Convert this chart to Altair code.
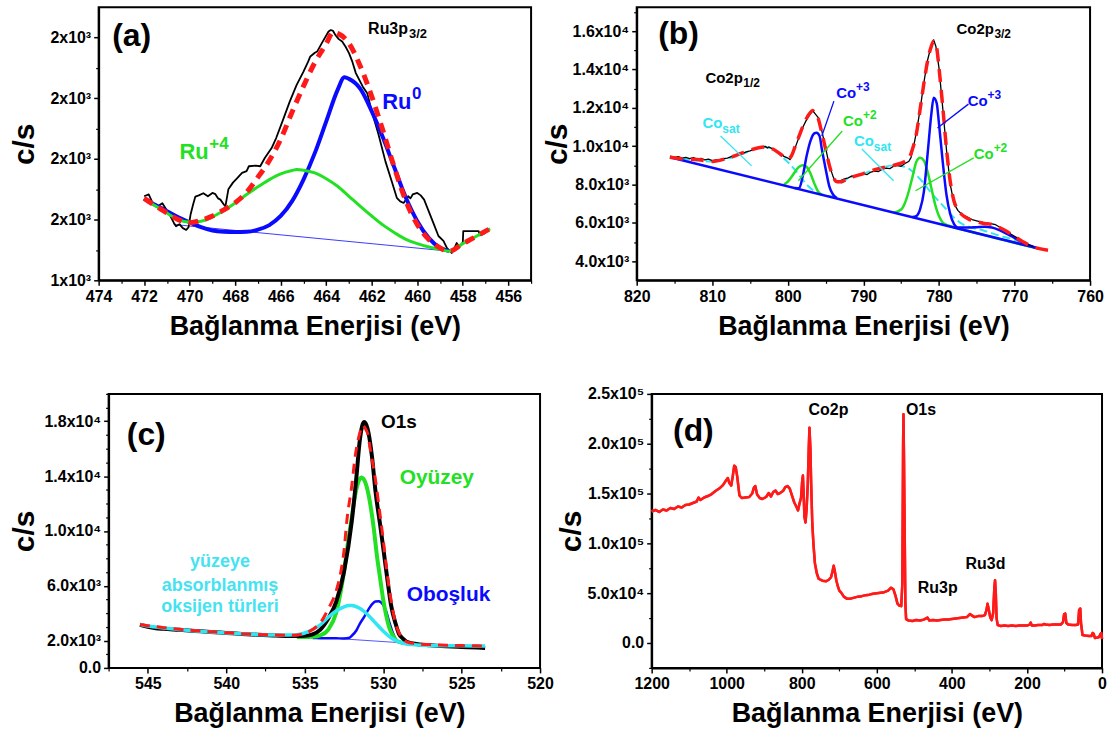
import altair as alt
import pandas as pd

FONT = "Liberation Sans"
BLACK = "#000000"
RED = "#ff1a1a"
BLUE = "#0a0aff"
GREEN = "#22e022"
CYAN = "#2fe6f2"
TXTCYAN = "#45e3f2"

# ---------------- (a) Ru3p ----------------
a_base_E = [470.7, 458.6]
a_base_V = [1584, 1496]
a_blue_E = [472, 471.5, 471, 470.5, 470, 469.5, 469, 468.5, 468, 467.5, 467, 466.5, 466, 465.5, 465,
            464.5, 464, 463.5, 463.2, 463, 462.5, 462, 461.5, 461, 460.5, 460, 459.5, 459, 458.6]
a_blue_V = [1670, 1648, 1628, 1608, 1591, 1575, 1564, 1560, 1559, 1560, 1567, 1582, 1612, 1661, 1732,
            1820, 1924, 2028, 2069, 2064, 2031, 1957, 1869, 1770, 1672, 1595, 1540, 1507, 1496]
a_green_E = [472, 471.5, 471, 470.5, 470, 469.5, 469, 468.5, 468, 467.5, 467, 466.5, 466, 465.5, 465.3,
             465, 464.5, 464, 463.5, 463, 462.5, 462, 461.5, 461, 460.5, 460, 459.5, 459, 458.6, 458,
             457.5, 457, 456.8]
a_green_V = [1670, 1645, 1622, 1600, 1592, 1595, 1609, 1630, 1655, 1683, 1708, 1732, 1751, 1762, 1765,
             1763, 1754, 1735, 1710, 1677, 1644, 1612, 1582, 1557, 1535, 1521, 1510, 1502, 1496, 1521,
             1541, 1562, 1570]
a_red_E = [472, 471.5, 471, 470.5, 470, 469.5, 469, 468.5, 468, 467.5, 467, 466.5, 466, 465.5, 465,
           464.5, 464, 463.7, 463.5, 463, 462.5, 462, 461.5, 461, 460.5, 460, 459.5, 459, 458.6, 458,
           457.5, 457, 456.8]
a_red_V = [1670, 1645, 1622, 1600, 1590, 1598, 1612, 1632, 1656, 1690, 1740, 1795, 1865, 1955, 2040,
           2118, 2180, 2218, 2214, 2181, 2105, 2006, 1891, 1770, 1661, 1584, 1535, 1507, 1496, 1521,
           1541, 1562, 1570]
a_black_E = [472.0, 471.8, 471.6, 471.4, 471.2, 471.0, 470.84, 470.7, 470.6, 470.45, 470.3, 470.15,
             470.05, 469.96, 469.85, 469.75, 469.6, 469.4, 469.2, 469.0, 468.87, 468.75, 468.65, 468.5,
             468.43, 468.3, 468.1, 467.9, 467.7, 467.5, 467.4, 467.1, 466.9, 466.7, 466.4, 466.2,
             465.9, 465.6, 465.3, 465.0, 464.8, 464.7, 464.5, 464.4, 464.2, 463.9, 463.8, 463.7,
             463.6, 463.45, 463.3, 463.15, 463.0, 462.85, 462.7, 462.4, 462.2, 462.0, 461.7, 461.4,
             461.1, 460.9, 460.75, 460.6, 460.4, 460.3, 460.2, 460.0, 459.85, 459.7, 459.5, 459.3,
             459.07, 458.85, 458.7, 458.49, 458.4, 458.27, 458.15, 458.0, 457.98, 457.3, 457.25, 457.0]
a_black_V = [1677, 1683, 1650, 1644, 1654, 1630, 1611, 1590, 1578, 1585, 1572, 1566,
             1575, 1617, 1650, 1676, 1680, 1687, 1677, 1688, 1684, 1670, 1666, 1650,
             1644, 1700, 1722, 1738, 1754, 1760, 1776, 1778, 1776, 1803, 1836, 1869,
             1929, 1990, 2044, 2088, 2120, 2138, 2150, 2154, 2181, 2220, 2225, 2222,
             2209, 2195, 2187, 2170, 2149, 2120, 2083, 2039, 2017, 1957, 1880, 1792,
             1721, 1672, 1660, 1655, 1677, 1670, 1683, 1688, 1680, 1666, 1628, 1590,
             1546, 1530, 1507, 1490, 1500, 1523, 1510, 1525, 1562, 1562, 1548, 1556]

# ---------------- (b) Co2p ----------------
b_base_E = [815.6, 767.2]
b_base_V = [9425, 4700]
b_blue1_E = [799.1, 798.5, 798, 797.5, 797, 796.5, 796.2, 795.8, 795.5, 795, 794.5, 794, 793.5]
b_blue1_V = [7815, 7800, 8487, 9510, 10278, 10670, 10705, 10534, 9852, 8828, 7890, 7463, 7293]
b_blue2_E = [783.5, 783, 782.5, 782, 781.5, 781, 780.7, 780.3, 780, 779.5, 779, 778.5, 778, 777.5,
             777, 776, 775, 774, 773, 772, 771, 770, 769, 768, 767.2]
b_blue2_V = [6300, 6350, 6700, 7600, 9600, 11700, 12530, 12250, 11200, 9200, 7450, 6450, 5930, 5760,
             5757, 5757, 5774, 5791, 5757, 5620, 5416, 5211, 4990, 4819, 4700]
b_green1_E = [800.5, 800, 799.5, 799, 798.5, 798, 797.5, 797, 796.5, 796, 795.5]
b_green1_V = [8009, 8146, 8401, 8692, 8930, 8999, 8913, 8572, 8060, 7634, 7463]
b_green2_E = [786, 785, 784.5, 784, 783.5, 783, 782.5, 782, 781.5, 781, 780.5, 780, 779.5, 779,
              778.5, 778, 776, 774, 772, 770, 767.2]
b_green2_V = [6525, 6696, 7037, 7634, 8401, 9169, 9391, 9254, 8657, 7804, 6951, 6354, 6013, 5894,
              5825, 5760, 5560, 5360, 5160, 4960, 4700]
b_cyan1_E = [815.6, 812, 810, 808, 806, 804, 803, 802, 801, 800, 799, 798, 797, 796, 795, 794]
b_cyan1_V = [9425, 9254, 9203, 9340, 9596, 9886, 9954, 9852, 9544, 9169, 8743, 8231, 7804, 7548,
             7429, 7361]
b_cyan2_E = [793, 792, 790, 788, 786, 785, 784, 783, 782, 781, 780, 779, 778, 777, 776, 774, 772,
             770, 767.2]
b_cyan2_V = [8060, 8316, 8572, 8828, 8999, 8965, 8828, 8487, 8060, 7548, 7122, 6696, 6269, 5962,
             5791, 5587, 5331, 5109, 4700]
b_red_E = [815.6, 814, 812, 810, 808, 806, 804, 803, 802, 801, 800, 799.5, 799, 798.5, 798, 797.5,
           797, 796.7, 796.5, 796, 795.5, 795, 794.5, 794, 793.5, 793, 792, 790, 788, 786, 785,
           784.5, 784, 783.5, 783, 782.5, 782, 781.5, 781, 780.7, 780.3, 780, 779.5, 779, 778.5,
           778, 777.5, 777, 776, 775, 774, 773, 772, 771, 770, 769, 768, 767, 765.5]
b_red_V = [9425, 9340, 9306, 9203, 9374, 9647, 9903, 9954, 9852, 9596, 9340, 9510, 10022, 10534,
           11046, 11472, 11762, 11865, 11762, 11472, 10705, 9852, 8999, 8401, 8146, 8146, 8316,
           8572, 8828, 8999, 9118, 9203, 9340, 9852, 10619, 11899, 13264, 14458, 15226, 15482,
           15140, 14117, 12069, 9852, 8146, 7122, 6696, 6440, 6184, 6064, 5962, 5928, 5757, 5552,
           5280, 5041, 4819, 4682, 4563]
b_black_E = [815.6, 815, 814.5, 814, 813.5, 813, 812.5, 812, 811.5, 811, 810.5, 810, 809.5, 809,
             808.5, 808, 807.5, 807, 806.5, 806, 805.5, 805, 804.5, 804, 803.5, 803, 802.7, 802.5,
             802, 801.5, 801, 800.5, 800, 799.7, 799.5, 799, 798.5, 798, 797.5, 797, 796.7, 796.4,
             796, 795.5, 795, 794.5, 794, 793.7, 793.3, 793, 792.5, 792, 791.5, 791, 790.5, 790,
             789.5, 789, 788.5, 788, 787.5, 787, 786.5, 786, 785.5, 785, 784.5, 784, 783.7, 783.4,
             783, 782.5, 782, 781.5, 781, 780.7, 780.4, 780, 779.5, 779, 778.5, 778, 777.5, 777,
             776.5, 776, 775.5, 775, 774.5, 774, 773.5, 773, 772.5, 772, 771.5, 771, 770.5, 770,
             769.5, 769, 768.5, 768, 767.5]
b_black_V = [9480, 9420, 9460, 9380, 9420, 9350, 9400, 9330, 9360, 9290, 9320, 9250, 9290, 9300,
             9350, 9380, 9450, 9480, 9560, 9620, 9700, 9760, 9830, 9880, 9940, 9990, 9900, 9960,
             9860, 9760, 9600, 9470, 9380, 9300, 9480, 9950, 10500, 11000, 11400, 11700, 11850,
             11700, 11500, 10800, 9900, 9000, 8400, 8150, 8100, 8200, 8300, 8350, 8450, 8420, 8500,
             8550, 8520, 8650, 8700, 8680, 8800, 8850, 8830, 8950, 9000, 8950, 9100, 9200, 9400,
             9900, 10700, 11900, 13300, 14500, 15300, 15550, 15200, 14100, 12000, 9800, 8000, 7000,
             6650, 6450, 6350, 6250, 6150, 6100, 6050, 6000, 5980, 5950, 5900, 5780, 5680, 5560,
             5420, 5300, 5180, 5050, 4920, 4830, 4760]

# ---------------- (c) O1s ----------------
c_frame_E = [547.5, 520]
c_frame_V = [0, 20000]
c_base_E = [533, 528]
c_base_V = [2150, 1770]
c_black_E = [545.5, 545, 544.5, 544, 543, 542, 541, 540, 539, 538, 537, 536, 535.5, 535, 534.5, 534,
             533.5, 533, 532.5, 532, 531.7, 531.5, 531.3, 531.2, 531, 530.7, 530.5, 530.2, 530,
             529.7, 529.5, 529.2, 529, 528.7, 528.5, 528, 527, 526, 525, 524, 523.5]
c_black_V = [3150, 3000, 2900, 2850, 2780, 2700, 2620, 2550, 2480, 2420, 2370, 2330, 2320, 2340, 2450,
             2800, 3600, 4800, 7000, 10700, 14000, 16500, 17800, 17950, 17500, 15300, 13000, 10500,
             8800, 6200, 4600, 3200, 2500, 2100, 1900, 1760, 1650, 1580, 1530, 1480, 1450]
c_red_E = [545.5, 545, 544, 543, 542, 541, 540, 539, 538, 537, 536, 535.5, 535, 534.5, 534, 533.5,
           533, 532.7, 532.5, 532.3, 532, 531.8, 531.5, 531.3, 531.1, 531, 530.8, 530.5, 530.2, 530,
           529.7, 529.4, 529.2, 529, 528.7, 528.5, 528, 527, 526, 525, 524, 523.5]
c_red_V = [3170, 3080, 2940, 2820, 2720, 2640, 2560, 2500, 2440, 2400, 2380, 2400, 2520, 2800, 3300,
           4300, 5600, 7000, 8500, 10900, 13300, 15300, 17100, 17700, 17400, 17150, 15800, 13800,
           11200, 9400, 6500, 4300, 3200, 2600, 2050, 1900, 1780, 1700, 1660, 1630, 1610, 1600]
c_green_E = [535.5, 535, 534.5, 534, 533.5, 533, 532.7, 532.5, 532.2, 532, 531.8, 531.6, 531.4, 531.2,
             531, 530.8, 530.6, 530.4, 530.2, 530, 529.8, 529.6, 529.4, 529.2, 529, 528.5, 528]
c_green_V = [2260, 2260, 2280, 2380, 2800, 4000, 5600, 7000, 9500, 11000, 12500, 13500, 13900, 13700,
             13000, 11800, 10200, 8200, 6600, 5000, 3800, 2900, 2400, 2050, 1900, 1800, 1770]
c_cyan_E = [545.5, 545, 544, 543, 542, 541, 540, 539, 538, 537, 536, 535.5, 535, 534.5, 534, 533.5,
            533, 532.5, 532.2, 532, 531.5, 531, 530.5, 530, 529.5, 529, 528.5, 528, 527, 526, 525,
            524, 523.5]
c_cyan_V = [3170, 3060, 2920, 2800, 2700, 2620, 2550, 2490, 2430, 2400, 2400, 2430, 2550, 2800, 3150,
            3700, 4150, 4450, 4550, 4550, 4350, 3900, 3300, 2700, 2200, 1900, 1750, 1690, 1640, 1620,
            1610, 1600, 1600]
c_blue_E = [534.5, 534, 533, 532.5, 532.2, 532, 531.7, 531.5, 531.2, 531, 530.7, 530.5, 530.3, 530,
            529.8, 529.6, 529.4, 529.2, 529, 528.7]
c_blue_V = [2180, 2170, 2160, 2150, 2180, 2350, 2750, 3200, 3750, 4150, 4650, 4850, 4870, 4600, 4100,
            3300, 2600, 2100, 1880, 1800]

# ---------------- (d) survey ----------------
d_E = [1200, 1190, 1180, 1170, 1160, 1150, 1140, 1130, 1120, 1110, 1100, 1090, 1080, 1075, 1070,
       1060, 1050, 1040, 1030, 1020, 1010, 1003, 997, 993, 988, 984, 980, 976, 972, 966, 960, 950,
       940, 932, 928, 924, 919, 912, 905, 895, 888, 882, 876, 870, 864, 858, 850, 844, 838, 832,
       826, 820, 814, 810, 806, 802, 799, 797, 795, 793, 790, 787, 784, 781, 779.5, 777, 775, 772,
       769, 765, 760, 755, 745, 735, 728, 722, 718, 715, 712, 708, 704, 700, 695, 688, 680, 670,
       660, 650, 640, 630, 620, 610, 600, 590, 580, 570, 562, 556, 550, 545, 540, 535, 532, 530,
       529, 527.5, 526, 524, 522, 515, 505, 495, 485, 475, 465, 460, 450, 440, 430, 420, 410, 400,
       390, 380, 370, 360, 352, 346, 340, 330, 320, 312, 308, 305, 302, 298, 294, 290, 287, 285,
       283, 281, 278, 270, 260, 250, 240, 230, 220, 210, 200, 193, 190, 187, 180, 170, 160, 155,
       150, 140, 130, 120, 110, 104, 101, 98, 95, 90, 80, 70, 64, 61, 58, 56, 52, 45, 35, 28, 25,
       22, 19, 12, 8, 4, 2, 0]
d_V = [132000, 133500, 131500, 134000, 133000, 135500, 134500, 137000, 136000, 138500, 139000,
       140500, 142000, 146000, 143500, 146000, 147500, 149500, 152500, 155000, 158500, 162500,
       165500, 160500, 158000, 167000, 178000, 176500, 167000, 148000, 145500, 146000, 146500,
       150000, 155500, 157500, 149000, 145500, 144500, 146500, 150500, 147000, 151500, 153000,
       149500, 150500, 152500, 156500, 157500, 155000, 148000, 141000, 136500, 133000, 140000,
       145500, 162000, 168000, 150000, 127000, 121000, 135000, 160000, 200000, 216000, 195000,
       160000, 120000, 100000, 80000, 70000, 64500, 62500, 62000, 63500, 66000, 72000, 77500,
       72000, 63000, 57000, 52500, 50500, 46500, 44500, 44500, 45500, 46500, 47000, 48000, 48500,
       49500, 50000, 50500, 51000, 52500, 55500, 54000, 47000, 39500, 37500, 37000, 60000, 200000,
       229500, 180000, 120000, 40000, 24000, 22500, 22000, 23000, 22500, 23500, 25500, 22500,
       23000, 22500, 23000, 23500, 23500, 24000, 24500, 25000, 25500, 26000, 29000, 27500, 26000,
       27000, 27000, 28000, 33000, 39500, 34000, 26000, 23000, 30000, 55000, 63000, 50000, 25000,
       18000, 17000, 17500, 17000, 17500, 17000, 17500, 17500, 17500, 18500, 20500, 17500, 17500,
       18000, 18000, 19000, 18500, 18000, 18500, 18500, 18500, 21000, 29000, 29500, 20000, 18500,
       18000, 18000, 18500, 33000, 34500, 20000, 8000, 7500, 7000, 7000, 10000, 9000, 5000, 5500,
       6000, 9000, 10000, 4000]

# ---------------- axes ----------------
a_xticks = [474, 472, 470, 468, 466, 464, 462, 460, 458, 456]
a_xminor = [473, 471, 469, 467, 465, 463, 461, 459, 457, 455]
a_yticks = [1400, 1600, 1800, 2000, 2200]
a_yminor = [1500, 1700, 1900, 2100]
b_xticks = [820, 810, 800, 790, 780, 770, 760]
b_xminor = [815, 805, 795, 785, 775, 765]
b_yticks = [4000, 6000, 8000, 10000, 12000, 14000, 16000]
b_yminor = [5000, 7000, 9000, 11000, 13000, 15000, 17000]
c_xticks = [545, 540, 535, 530, 525, 520]
c_xminor = [547.5, 542.5, 537.5, 532.5, 527.5, 522.5]
c_yticks = [0, 2000, 6000, 10000, 14000, 18000]
c_yminor = [1000, 3000, 4000, 5000, 7000, 8000, 9000, 11000, 12000, 13000, 15000, 16000, 17000,
            19000, 20000]
d_xticks = [1200, 1000, 800, 600, 400, 200, 0]
d_xminor = [1100, 900, 700, 500, 300, 100]
d_yticks = [0, 50000, 100000, 150000, 200000, 250000]
d_yminor = [-25000, 25000, 75000, 125000, 175000, 225000]

XTITLE = "Bağlanma Enerjisi (eV)"
YTITLE = "c/s"

EXP_B = ("datum.value < 10000 ? format(datum.value/1000, '.1f') + 'x10³' : "
         "format(datum.value/10000, '.1f') + 'x10⁴'")
a_lab = "round(datum.value/1000) + 'x10³'"
b_lab = EXP_B
c_lab = "datum.value == 0 ? '0.0' : (" + EXP_B + ")"
d_lab = ("datum.value == 0 ? '0.0' : (datum.value < 100000 ? format(datum.value/10000, '.1f') + 'x10⁴' : "
         "format(datum.value/100000, '.1f') + 'x10⁵')")


def major_x(values, domain=True):
    return alt.Axis(values=values, title=XTITLE, orient="bottom", format="d", grid=False,
                    domain=domain, domainColor=BLACK, domainWidth=2, tickColor=BLACK, tickWidth=1.5,
                    tickSize=5, labelFont=FONT, labelFontSize=16, labelFontWeight="bold",
                    labelColor=BLACK, labelPadding=3, labelFlush=False, labelOverlap=False,
                    titleFont=FONT, titleFontSize=27, titleFontWeight="bold", titleColor=BLACK,
                    titlePadding=9)


def major_y(values, expr, tx, off=0):
    return alt.Axis(values=values, title=YTITLE, orient="left", labelExpr=expr, grid=False,
                    offset=off, domainColor=BLACK, domainWidth=2, tickColor=BLACK, tickWidth=1.5,
                    tickSize=5, labelFont=FONT, labelFontSize=16, labelFontWeight="bold",
                    labelColor=BLACK, labelPadding=3, labelFlush=False, labelOverlap=False,
                    titleFont=FONT, titleFontSize=30, titleFontWeight="bold", titleColor=BLACK,
                    titleX=tx, titleBaseline="alphabetic")


def minor(values, orient, off=0):
    return alt.Axis(values=values, orient=orient, labels=False, domain=False, grid=False,
                    offset=off, tickColor=BLACK, tickWidth=1.2, tickSize=3, title=None)


def series(E, V, color, width, xs, ys, dash=None, interp="linear", xaxis=None, yaxis=None):
    df = pd.DataFrame({"E": E, "V": V, "i": list(range(len(E)))})
    mk = dict(color=color, strokeWidth=width, interpolate=interp, strokeJoin="round")
    if dash is not None:
        mk["strokeDash"] = dash
    return alt.Chart(df).mark_line(**mk).encode(
        x=alt.X("E:Q", scale=xs, axis=xaxis),
        y=alt.Y("V:Q", scale=ys, axis=yaxis),
        order=alt.Order("i:Q"),
    )


def label(E, V, s, color, size, xs, ys, align="left", dx=0, dy=0):
    df = pd.DataFrame({"E": [E], "V": [V], "t": [s]})
    return alt.Chart(df).mark_text(color=color, fontSize=size, font=FONT, fontWeight="bold",
                                   align=align, baseline="middle", dx=dx, dy=dy).encode(
        x=alt.X("E:Q", scale=xs, axis=None),
        y=alt.Y("V:Q", scale=ys, axis=None),
        text="t:N",
    )


def leader(E1, V1, E2, V2, color, xs, ys):
    df = pd.DataFrame({"E": [E1], "V": [V1], "E2": [E2], "V2": [V2]})
    return alt.Chart(df).mark_rule(color=color, strokeWidth=1.3).encode(
        x=alt.X("E:Q", scale=xs, axis=None),
        y=alt.Y("V:Q", scale=ys, axis=None),
        x2="E2:Q", y2="V2:Q",
    )


# ---------------- panel (a) ----------------
xa = alt.Scale(domain=[474, 455], nice=False, zero=False)
ya = alt.Scale(domain=[1400, 2300], nice=False, zero=False)
pa = alt.layer(
    series(a_base_E, a_base_V, BLUE, 0.8, xa, ya, xaxis=major_x(a_xticks), yaxis=major_y(a_yticks, a_lab, -65)),
    series(a_black_E, a_black_V, BLACK, 1.8, xa, ya, xaxis=minor(a_xminor, "bottom"), yaxis=minor(a_yminor, "left")),
    series(a_blue_E, a_blue_V, BLUE, 4, xa, ya, interp="monotone"),
    series(a_green_E, a_green_V, GREEN, 3, xa, ya, interp="monotone"),
    series(a_red_E, a_red_V, RED, 5, xa, ya, dash=[10, 7], interp="monotone"),
    label(472.55, 2204, "(a)", BLACK, 32, xa, ya, align="center"),
    label(462.16, 2227, "Ru3p", BLACK, 16, xa, ya),
    label(462.16, 2227, "3/2", BLACK, 13, xa, ya, dx=41, dy=5),
    label(461.54, 1988, "Ru", BLUE, 22, xa, ya),
    label(461.54, 1988, "0", BLUE, 17, xa, ya, dx=30, dy=-8),
    label(470.45, 1824, "Ru", GREEN, 22, xa, ya),
    label(470.45, 1824, "+4", GREEN, 17, xa, ya, dx=30, dy=-8),
).resolve_axis(x="independent", y="independent").properties(width=434, height=274)

# ---------------- panel (b) ----------------
xb = alt.Scale(domain=[820, 760], nice=False, zero=False)
yb = alt.Scale(domain=[3000, 17250], nice=False, zero=False)
pb = alt.layer(
    series(b_cyan1_E, b_cyan1_V, CYAN, 2, xb, yb, dash=[8, 4], interp="monotone",
           xaxis=major_x(b_xticks), yaxis=major_y(b_yticks, b_lab, -70)),
    series(b_cyan2_E, b_cyan2_V, CYAN, 2, xb, yb, dash=[8, 4], interp="monotone",
           xaxis=minor(b_xminor, "bottom"), yaxis=minor(b_yminor, "left")),
    series(b_green1_E, b_green1_V, GREEN, 2.5, xb, yb, interp="monotone"),
    series(b_green2_E, b_green2_V, GREEN, 2.5, xb, yb, interp="monotone"),
    series(b_base_E, b_base_V, BLUE, 2.5, xb, yb),
    series(b_blue1_E, b_blue1_V, BLUE, 2.5, xb, yb, interp="monotone"),
    series(b_blue2_E, b_blue2_V, BLUE, 2.5, xb, yb, interp="monotone"),
    series(b_black_E, b_black_V, BLACK, 1.3, xb, yb),
    series(b_red_E, b_red_V, RED, 3.5, xb, yb, dash=[13, 8], interp="monotone"),
    leader(793.9, 12351, 795.5, 10533, BLUE, xb, yb),
    leader(792.8, 10793, 798.6, 8195, GREEN, xb, yb),
    leader(808.9, 10533, 804.8, 8974, CYAN, xb, yb),
    leader(790.2, 9857, 786.0, 8195, CYAN, xb, yb),
    leader(776.1, 12195, 780.2, 10948, BLUE, xb, yb),
    leader(775.4, 9390, 783.1, 7676, GREEN, xb, yb),
    label(814.46, 15831, "(b)", BLACK, 32, xb, yb, align="center"),
    label(777.67, 16091, "Co2p", BLACK, 15, xb, yb),
    label(777.67, 16091, "3/2", BLACK, 12, xb, yb, dx=38, dy=5),
    label(810.9, 13546, "Co2p", BLACK, 15, xb, yb),
    label(810.9, 13546, "1/2", BLACK, 12, xb, yb, dx=38, dy=5),
    label(793.6, 12767, "Co", BLUE, 15, xb, yb),
    label(793.6, 12767, "+3", BLUE, 12, xb, yb, dx=20, dy=-6),
    label(792.7, 11312, "Co", GREEN, 15, xb, yb),
    label(792.7, 11312, "+2", GREEN, 12, xb, yb, dx=20, dy=-6),
    label(811.3, 11208, "Co", CYAN, 15, xb, yb),
    label(811.3, 11208, "sat", CYAN, 12, xb, yb, dx=20, dy=6),
    label(791.25, 10273, "Co", CYAN, 15, xb, yb),
    label(791.25, 10273, "sat", CYAN, 12, xb, yb, dx=20, dy=6),
    label(776.2, 12351, "Co", BLUE, 15, xb, yb),
    label(776.2, 12351, "+3", BLUE, 12, xb, yb, dx=20, dy=-6),
    label(775.4, 9598, "Co", GREEN, 15, xb, yb),
    label(775.4, 9598, "+2", GREEN, 12, xb, yb, dx=20, dy=-6),
).resolve_axis(x="independent", y="independent").properties(width=455, height=274)

# ---------------- panel (c) ----------------
# plot area starts 10 px left of the frame so that it lines up with panel (a);
# the frame is drawn at the 547.5..520 window and the y axis is moved onto it.
xc = alt.Scale(domain=[548.135, 520], nice=False, zero=False)
yc = alt.Scale(domain=[0, 20000], nice=False, zero=False)
c_frame = alt.Chart(pd.DataFrame({"E": [c_frame_E[0]], "E2": [c_frame_E[1]],
                                  "V": [c_frame_V[0]], "V2": [c_frame_V[1]]})).mark_rect(
    fill="transparent", stroke=BLACK, strokeWidth=2).encode(
    x=alt.X("E:Q", scale=xc, axis=None), x2="E2:Q",
    y=alt.Y("V:Q", scale=yc, axis=None), y2="V2:Q")
pc = alt.layer(
    series(c_base_E, c_base_V, BLUE, 0.7, xc, yc, xaxis=major_x(c_xticks, domain=False),
           yaxis=major_y(c_yticks, c_lab, -75, off=-10)),
    series(c_blue_E, c_blue_V, BLUE, 2.5, xc, yc, interp="monotone",
           xaxis=minor(c_xminor, "bottom"), yaxis=minor(c_yminor, "left", off=-10)),
    series(c_green_E, c_green_V, GREEN, 4, xc, yc, interp="monotone"),
    series(c_black_E, c_black_V, BLACK, 4, xc, yc, interp="monotone"),
    series(c_cyan_E, c_cyan_V, CYAN, 3.5, xc, yc, interp="monotone"),
    series(c_red_E, c_red_V, RED, 3, xc, yc, dash=[10, 7], interp="monotone"),
    c_frame,
    label(545.1, 16975, "(c)", BLACK, 32, xc, yc, align="center"),
    label(529.0, 17921, "O1s", BLACK, 19, xc, yc, align="center"),
    label(528.95, 13850, "Oyüzey", GREEN, 21, xc, yc),
    label(528.5, 5343, "Oboşluk", BLUE, 21, xc, yc),
    label(540.4, 7750, "yüzeye", TXTCYAN, 18, xc, yc, align="center"),
    label(540.4, 6005, "absorblanmış", TXTCYAN, 18, xc, yc, align="center"),
    label(540.4, 4478, "oksijen türleri", TXTCYAN, 18, xc, yc, align="center"),
).resolve_axis(x="independent", y="independent").properties(
    width=443, height=275, view=alt.ViewBackground(stroke="transparent"))

# ---------------- panel (d) ----------------
xd = alt.Scale(domain=[1200, 0], nice=False, zero=False)
yd = alt.Scale(domain=[-25000, 250000], nice=False, zero=False)
pd_ = alt.layer(
    series(d_E, d_V, RED, 2.5, xd, yd, xaxis=major_x(d_xticks), yaxis=major_y(d_yticks, d_lab, -71)),
    series(d_E, d_V, RED, 2.5, xd, yd, xaxis=minor(d_xminor, "bottom"), yaxis=minor(d_yminor, "left")),
    label(1088.8, 212700, "(d)", BLACK, 32, xd, yd, align="center"),
    label(728.9, 233700, "Co2p", BLACK, 16, xd, yd, align="center"),
    label(522.4, 233700, "O1s", BLACK, 16, xd, yd),
    label(310.6, 79700, "Ru3d", BLACK, 16, xd, yd, align="center"),
    label(437.7, 54700, "Ru3p", BLACK, 16, xd, yd, align="center"),
).resolve_axis(x="independent", y="independent").properties(width=452, height=275)

row1 = alt.hconcat(pa, pb, spacing=9)
row2 = alt.hconcat(pc, pd_, spacing=1)
chart = alt.vconcat(row1, row2, spacing=45).properties(
    padding={"left": 9, "top": 5, "right": 0, "bottom": 0},
    background="white",
).configure_view(stroke=BLACK, strokeWidth=2)

chart.save("out.html", embed_options={"renderer": "svg", "actions": False})
